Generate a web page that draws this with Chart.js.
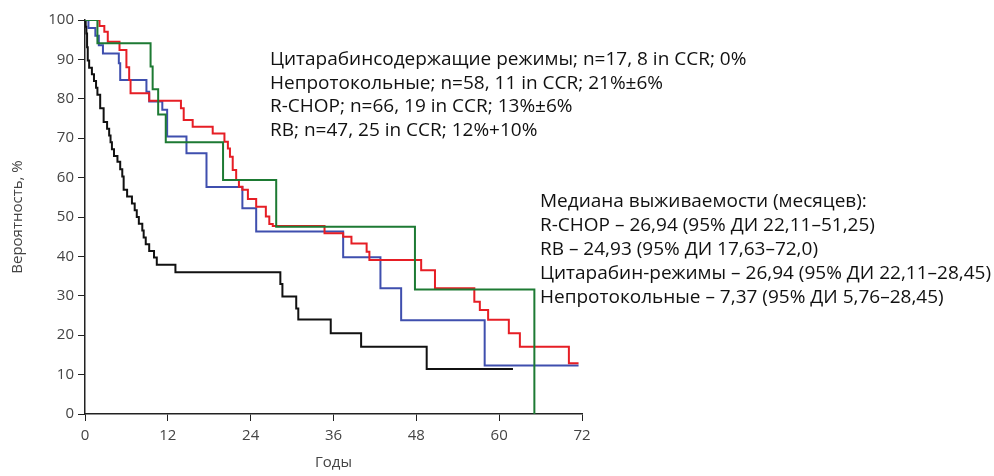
<!DOCTYPE html>
<html>
<head>
<meta charset="utf-8">
<script src="https://cdn.jsdelivr.net/npm/chart.js@4"></script>
<style>
  html, body { margin: 0; padding: 0; background: #fff; }
</style>
</head>
<body>
<canvas id="km" width="994" height="476"></canvas>
<script>
// months of each drop and survival (%) after it
const blackMonths = [0, 0.1, 0.2, 0.3, 0.4, 0.6, 1.0, 1.3, 1.6, 1.8, 2.2, 2.7, 3.2, 3.5, 3.7, 3.9, 4.2, 4.7, 5.1, 5.4, 5.6, 6.1, 6.8, 7.2, 7.5, 7.8, 8.3, 8.5, 8.8, 9.3, 10.0, 10.4, 13.1, 28.3, 28.6, 30.6, 30.9, 35.6, 40.0, 49.5, 62.0];
const blackSurv   = [100, 98.3, 96.6, 93.1, 89.7, 87.9, 86.2, 84.5, 82.8, 81.0, 77.6, 74.1, 72.4, 70.7, 69.0, 67.2, 65.5, 64.0, 62.1, 60.3, 56.9, 55.2, 53.4, 51.7, 50.0, 48.3, 46.6, 44.8, 43.1, 41.4, 39.7, 37.9, 36.0, 33.0, 29.8, 26.8, 24.0, 20.5, 17.1, 11.4, 11.4];

const blueMonths = [0, 0.5, 1.5, 2.0, 2.6, 4.9, 5.1, 8.9, 9.3, 11.2, 11.9, 14.7, 17.6, 22.8, 24.8, 37.4, 42.8, 45.8, 57.9, 71.5];
const blueSurv   = [100, 98.0, 96.0, 93.6, 91.5, 89.0, 84.8, 81.8, 79.3, 77.2, 70.4, 66.2, 57.6, 52.2, 46.3, 39.8, 31.9, 23.8, 12.3, 12.3];

const redMonths = [0, 2.1, 2.8, 3.3, 5.0, 6.0, 6.4, 6.6, 9.3, 13.9, 14.3, 15.6, 18.5, 20.2, 20.7, 21.0, 21.4, 21.9, 22.3, 22.8, 23.6, 24.8, 26.2, 26.7, 27.2, 34.7, 37.4, 38.6, 40.8, 41.2, 48.7, 50.7, 56.4, 57.2, 58.4, 61.4, 63.0, 70.1, 71.5];
const redSurv   = [100, 98.5, 97.0, 94.5, 92.4, 88.0, 84.8, 81.4, 79.5, 77.6, 74.6, 72.9, 71.2, 69.1, 67.4, 65.3, 61.9, 59.4, 57.7, 56.9, 54.6, 52.6, 50.1, 48.2, 47.7, 45.9, 45.0, 43.3, 41.2, 39.1, 36.5, 31.9, 28.5, 26.4, 23.9, 20.5, 17.1, 12.9, 12.9];

const greenMonths = [0, 1.8, 9.5, 9.8, 10.6, 11.7, 20.0, 27.7, 47.8, 65.1];
const greenSurv   = [100, 94.1, 88.2, 82.4, 76.0, 69.0, 59.4, 47.5, 31.6, 0];

const xTicks = [0, 12, 24, 36, 48, 60, 72];
const yTicks = [0, 10, 20, 30, 40, 50, 60, 70, 80, 90, 100];

const legendLines = [
  'Цитарабинсодержащие режимы; n=17, 8 in CCR; 0%',
  'Непротокольные; n=58, 11 in CCR; 21%±6%',
  'R-CHOP; n=66, 19 in CCR; 13%±6%',
  'RB; n=47, 25 in CCR; 12%+10%'
];
const medianLines = [
  'Медиана выживаемости (месяцев):',
  'R-CHOP – 26,94 (95% ДИ 22,11–51,25)',
  'RB – 24,93 (95% ДИ 17,63–72,0)',
  'Цитарабин-режимы – 26,94 (95% ДИ 22,11–28,45)',
  'Непротокольные – 7,37 (95% ДИ 5,76–28,45)'
];

const toPoints = (xs, ys) => xs.map((x, i) => ({ x: x, y: ys[i] }));

// text blocks drawn on the canvas
const notes = {
  id: 'notes',
  afterDraw(chart) {
    const ctx = chart.ctx;
    ctx.save();
    ctx.fillStyle = '#111';
    ctx.font = '19px "Open Sans", sans-serif';
    ctx.textBaseline = 'middle';
    legendLines.forEach((t, i) => ctx.fillText(t, 270, 60 + i * 23.4));
    medianLines.forEach((t, i) => ctx.fillText(t, 540, 202 + i * 24));
    ctx.restore();
  }
};

const line = (data, color) => ({
  data: data,
  borderColor: color,
  borderWidth: 2,
  pointRadius: 0,
  fill: false,
  stepped: true
});

const tickFont = { family: '"Open Sans", sans-serif', size: 15 };

new Chart(document.getElementById('km'), {
  type: 'line',
  data: {
    datasets: [
      line(toPoints(greenMonths, greenSurv), '#1d7a33'),
      line(toPoints(redMonths, redSurv), '#e61e25'),
      line(toPoints(blueMonths, blueSurv), '#3f4fae'),
      line(toPoints(blackMonths, blackSurv), '#111111')
    ]
  },
  options: {
    responsive: false,
    animation: false,
    layout: { padding: { left: 5, right: 412, top: 20, bottom: 0 } },
    plugins: { legend: { display: false }, tooltip: { enabled: false } },
    scales: {
      x: {
        type: 'linear', min: 0, max: 72,
        afterBuildTicks: s => { s.ticks = xTicks.map(v => ({ value: v })); },
        afterFit: s => { s.height = 62; },
        ticks: { color: '#444', font: tickFont, padding: 6 },
        grid: { drawOnChartArea: false, color: '#222', tickLength: 7 },
        border: { color: '#222', width: 1.5 },
        title: { display: true, text: 'Годы', color: '#444', font: tickFont, padding: { top: 3 } }
      },
      y: {
        min: 0, max: 100,
        afterBuildTicks: s => { s.ticks = yTicks.map(v => ({ value: v })); },
        afterFit: s => { s.width = 80; },
        ticks: { color: '#444', font: tickFont, padding: 4 },
        grid: { drawOnChartArea: false, color: '#222', tickLength: 7 },
        border: { color: '#222', width: 1.5 },
        title: { display: true, text: 'Вероятность, %', color: '#444', font: tickFont }
      }
    }
  },
  plugins: [notes]
});
</script>
</body>
</html>
